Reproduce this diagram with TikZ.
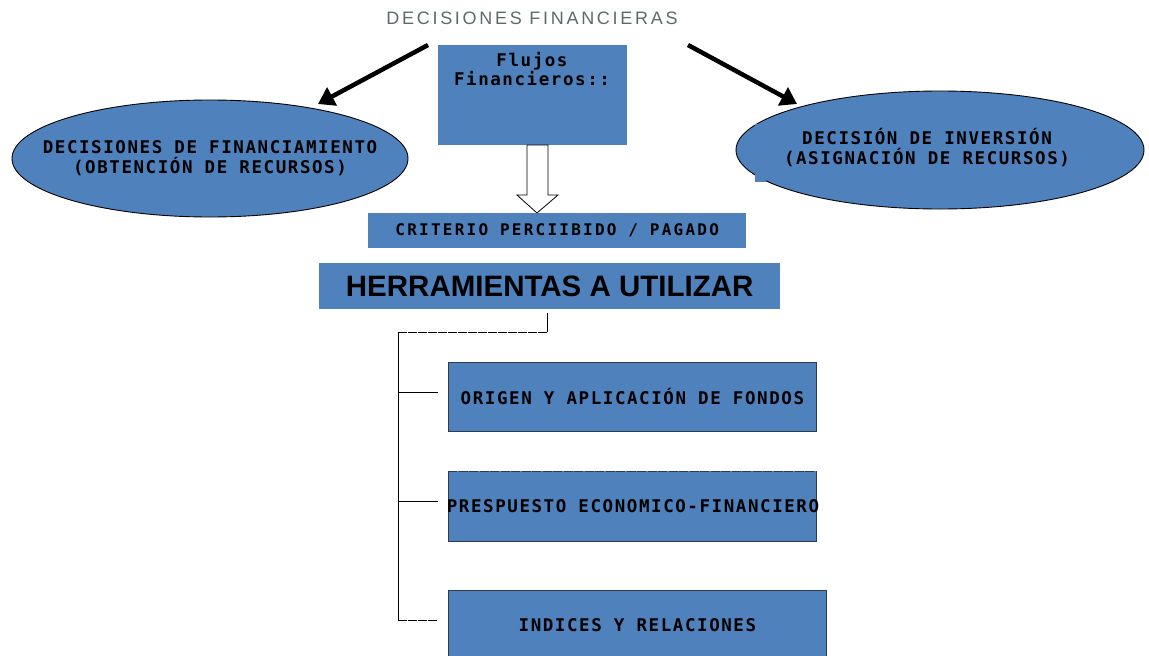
\documentclass[tikz,border=0pt]{standalone}
\usepackage{fontspec}
\usetikzlibrary{arrows.meta,shapes.geometric}
\setmainfont{Liberation Sans}
\newfontfamily\monof{DejaVu Sans Mono}[LetterSpace=9]
\newfontfamily\monoc{DejaVu Sans Mono}[LetterSpace=14]
\newfontfamily\titlef{Liberation Sans}[LetterSpace=15]
\definecolor{boxblue}{HTML}{4F81BD}
\definecolor{titlegray}{HTML}{5B6B6B}
\definecolor{edgedark}{HTML}{2E3B4E}
\begin{document}
\begin{tikzpicture}[x=1pt,y=-1pt,
  bluebox/.style={rectangle, fill=boxblue, inner sep=0pt, anchor=north west},
  framed/.style={bluebox, draw=edgedark, line width=0.8pt},
  oval/.style={ellipse, fill=boxblue, draw=black, line width=0.9pt, inner sep=0pt},
  monotext/.style={font=\monof\bfseries\fontsize{17.5}{20}\selectfont, align=center, inner sep=0pt, text=black},
  thickarrow/.style={line width=4.5pt, -{Triangle[length=16pt,width=20pt]}},
  bracket/.style={line width=0.8pt, black},
  hollow/.style={fill=white, draw=black, line width=0.8pt, line join=miter}
]
\useasboundingbox (0,0) rectangle (1149,656);

% title
\node[font=\titlef\fontsize{18}{20}\selectfont, text=titlegray, inner sep=0pt] (title) at (532,18) {DECISIONES FINANCIERAS};

% ellipses
\node[oval, minimum width=396pt, minimum height=117pt] (fin) at (210,158.5) {};
\node[monotext] (finT) at (210,158) {DECISIONES DE FINANCIAMIENTO\\(OBTENCIÓN DE RECURSOS)};
\node[oval, minimum width=408pt, minimum height=118pt] (inv) at (940,150) {};
\fill[boxblue] (755,124) rectangle (766,182);
\node[monotext] (invT) at (927,148) {DECISIÓN DE INVERSIÓN\\(ASIGNACIÓN DE RECURSOS)};

% flujos box
\node[bluebox, minimum width=189pt, minimum height=100pt] (flujos) at (438,45) {};
\node[monotext, anchor=north, font=\monof\bfseries\fontsize{17.5}{19}\selectfont] (flujosT) at (532,52) {Flujos\\Financieros::};

% arrows from title
\coordinate (la) at (428,45);
\coordinate (lt) at (318,104);
\coordinate (ra) at (688,45);
\coordinate (rt) at (797,104);
\draw[thickarrow] (la) -- (lt);
\draw[thickarrow] (ra) -- (rt);

% hollow down arrow
\draw[hollow] (527,145) -- (548,145) -- (548,195) -- (558,195) -- (537,213) -- (517,195) -- (527,195) -- cycle;

% criterio
\node[bluebox, minimum width=378pt, minimum height=35pt, font=\monoc\bfseries\fontsize{16}{18}\selectfont] (crit) at (368,213) {CRITERIO PERCIIBIDO / PAGADO};

% herramientas
\node[bluebox, minimum width=461pt, minimum height=46pt, font=\bfseries\fontsize{29.5}{32}\selectfont] (herr) at (319,263) {HERRAMIENTAS A UTILIZAR};

% tool boxes
\node[framed, minimum width=368pt, minimum height=69pt, monotext] (orig) at (448,362) {ORIGEN Y APLICACIÓN DE FONDOS};
\node[bluebox, minimum width=368pt, minimum height=70pt] (pres) at (448,471) {};
\draw[draw=edgedark, line width=0.8pt] (pres.north east) -- (pres.south east) -- (pres.south west) -- (pres.north west);
\draw[draw=edgedark, line width=0.8pt, dash pattern=on 9pt off 1.5pt] (pres.north west) -- (pres.north east);
\node[monotext] (presT) at (633,506) {PRESPUESTO ECONOMICO-FINANCIERO};
\node[framed, minimum width=378pt, minimum height=70pt, monotext] (ind) at (448,590) {INDICES Y RELACIONES};

% bracket
\coordinate (b1) at (547,313);
\coordinate (b2) at (547,332);
\coordinate (b3) at (398,332);
\coordinate (b4) at (398,620);
\coordinate (t1) at (398,392);
\coordinate (t1e) at (438,392);
\coordinate (t2) at (398,501);
\coordinate (t2e) at (438,501);
\coordinate (t3e) at (438,620);
\draw[bracket] (b1) -- (b2);
\draw[bracket, dash pattern=on 9pt off 1pt] (b2) -- (b3);
\draw[bracket] (b3) -- (b4);
\draw[bracket] (t1) -- (t1e);
\draw[bracket] (t2) -- (t2e);
\draw[bracket, dash pattern=on 9pt off 1pt] (b4) -- (t3e);
\end{tikzpicture}
\end{document}
